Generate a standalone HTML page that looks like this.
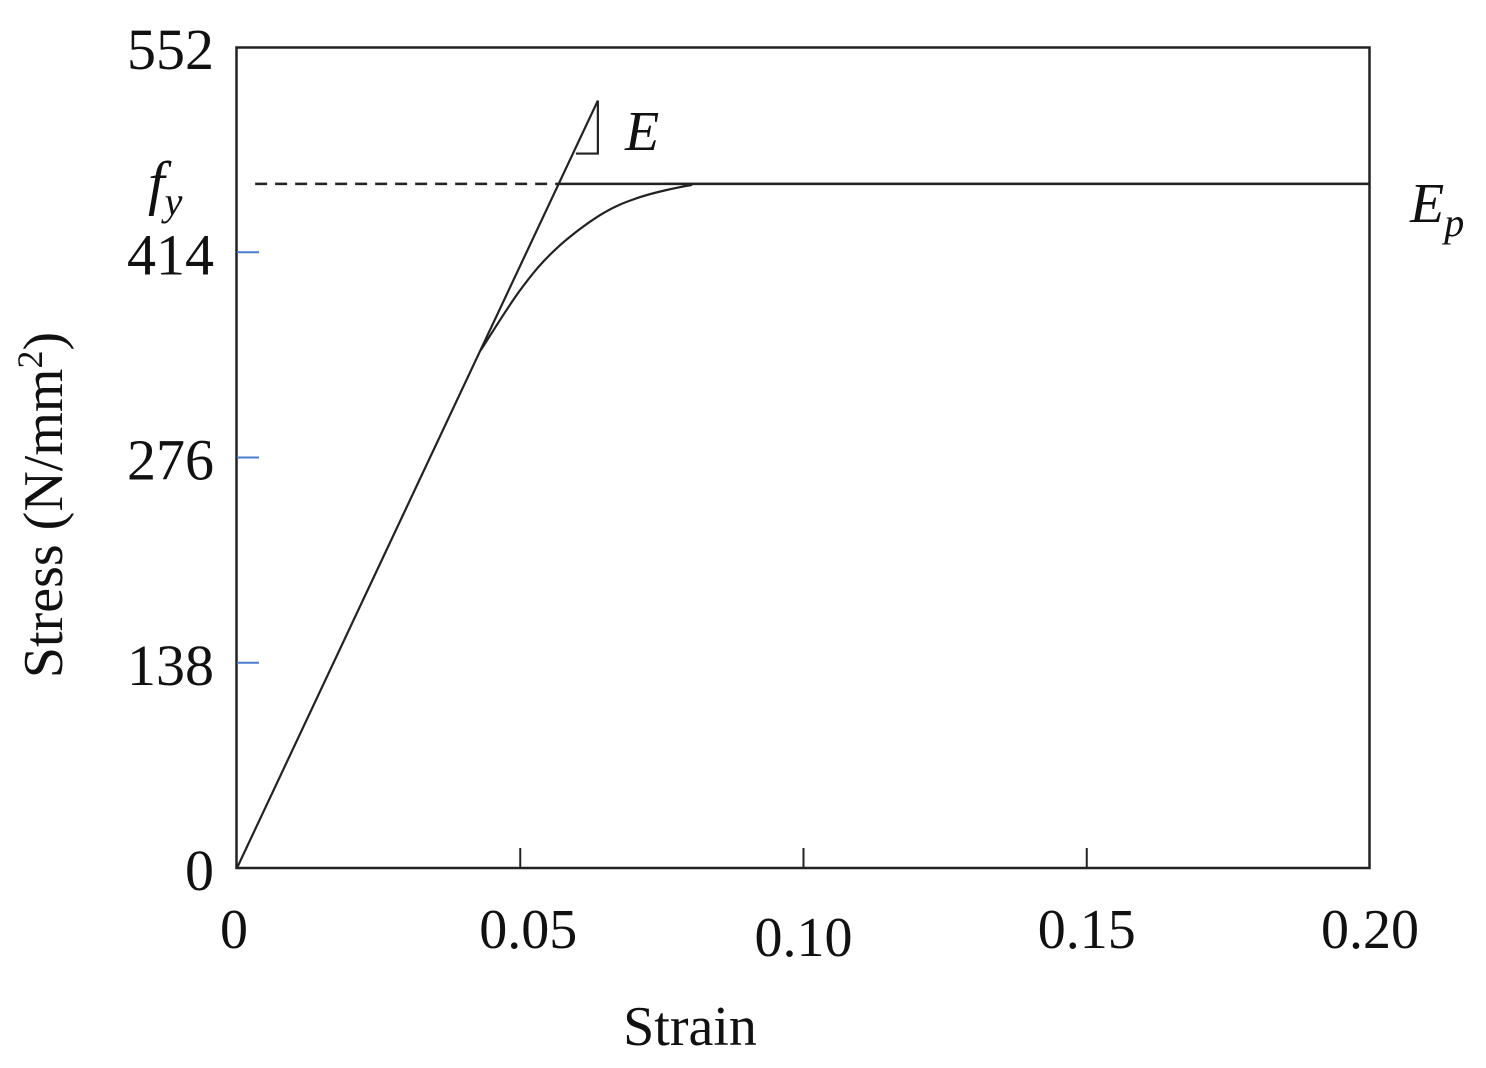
<!DOCTYPE html>
<html><head><meta charset="utf-8"><style>
html,body{margin:0;padding:0;background:#fff;}
svg{display:block;font-family:"Liberation Serif",serif;}
</style></head><body>
<svg id="chart" width="1486" height="1068" viewBox="0 0 1486 1068" xmlns="http://www.w3.org/2000/svg">
<rect x="236.5" y="47.5" width="1133" height="820.5" fill="none" stroke="#222" stroke-width="2.5"/>
<g id="ticks"></g>
<g id="marks"></g>
<text transform="translate(62,505) rotate(-90)" text-anchor="middle" font-size="56" fill="#111">Stress (N/mm<tspan font-size="36" dy="-20">2</tspan><tspan dy="20">)</tspan></text>
<text x="690" y="1045" text-anchor="middle" font-size="56" fill="#111">Strain</text>
<text x="625" y="150" font-size="56" font-style="italic" fill="#111">E</text>
<text x="148" y="203" font-size="60" font-style="italic" fill="#111">f<tspan font-size="40" dy="12">y</tspan></text>
<text x="1410" y="222" font-size="56" font-style="italic" fill="#111">E<tspan font-size="40" dy="14">p</tspan></text>
</svg>
<script>
const xTicks=[0,0.05,0.10,0.15,0.20];
const xTickLabels=["0","0.05","0.10","0.15","0.20"];
const yTicks=[0,138,276,414,552];
const yTickLabels=["0","138","276","414","552"];
const fy=460;
const curveStrain=[0.043,0.050,0.0561,0.0641,0.0711,0.080,0.0853,0.20];
const curveStress=[348,388.6,415.5,439,451,459,460,460];
const elasticEnd=[0.0637,516];
const dashStart=0.0032;
const dashEnd=0.0562;
const x0=237,x1=1370,y0=868,y1=47;
const sx=v=>x0+v/0.2*(x1-x0);
const sy=v=>y0-v/552*(y0-y1);
const NS="http://www.w3.org/2000/svg";
function mk(tag,attrs,parent){const e=document.createElementNS(NS,tag);for(const k in attrs)e.setAttribute(k,attrs[k]);parent.appendChild(e);return e;}
const T=document.getElementById('ticks'),M=document.getElementById('marks');
xTicks.forEach((v,i)=>{
  if(i>0&&i<xTicks.length-1){const l=mk('line',{x1:sx(v),x2:sx(v),y1:y0,y2:y0-20,stroke:'#222','stroke-width':2},T);
  
  }
  const t=mk('text',{x:sx(v)+(i==0?-3:(i==1?8:0)),y:948+(i==2?8:0),'text-anchor':'middle','font-size':56,fill:'#111'},T);
  t.textContent=xTickLabels[i];
  
  
});
yTicks.forEach((v,i)=>{
  if(i>0&&i<yTicks.length-1){const l=mk('line',{x1:x0,x2:x0+22,y1:sy(v),y2:sy(v),stroke:'#4a7fd0','stroke-width':2},T);
  
  }
  const t=mk('text',{x:214,y:sy(v)+22,'text-anchor':'end','font-size':58,fill:'#111'},T);
  t.textContent=yTickLabels[i];
  
  
});
const el=mk('line',{x1:sx(0),y1:sy(0),x2:sx(elasticEnd[0]),y2:sy(elasticEnd[1]),stroke:'#222','stroke-width':2.2},M);


const tri=mk('polyline',{points:`${sx(elasticEnd[0])},${sy(elasticEnd[1])} ${sx(elasticEnd[0])},${sy(elasticEnd[1])+53} ${sx(elasticEnd[0])-22},${sy(elasticEnd[1])+53}`,fill:'none',stroke:'#222','stroke-width':2.2},M);


const d=mk('line',{x1:sx(dashStart),x2:sx(dashEnd),y1:sy(fy),y2:sy(fy),stroke:'#222','stroke-width':2.5,'stroke-dasharray':'12 8'},M);


const pl=mk('line',{x1:sx(dashEnd),x2:sx(0.2),y1:sy(fy),y2:sy(fy),stroke:'#222','stroke-width':2.5},M);


// smooth Catmull-Rom path through curve points
const P=curveStrain.map((v,i)=>[sx(v),sy(curveStress[i])]);
let dstr=`M${P[0][0]},${P[0][1]}`;
for(let i=0;i<P.length-1;i++){
  const p0=P[i-1]||P[i],p1=P[i],p2=P[i+1],p3=P[i+2]||P[i+1];
  const c1=[p1[0]+(p2[0]-p0[0])/6,p1[1]+(p2[1]-p0[1])/6];
  const c2=[p2[0]-(p3[0]-p1[0])/6,p2[1]-(p3[1]-p1[1])/6];
  if(i==P.length-2){dstr+=` L${p2[0]},${p2[1]}`;}
  else dstr+=` C${c1[0]},${c1[1]} ${c2[0]},${c2[1]} ${p2[0]},${p2[1]}`;
}
const cp=mk('path',{d:dstr,fill:'none',stroke:'#222','stroke-width':2.2},M);


</script>
</body></html>
